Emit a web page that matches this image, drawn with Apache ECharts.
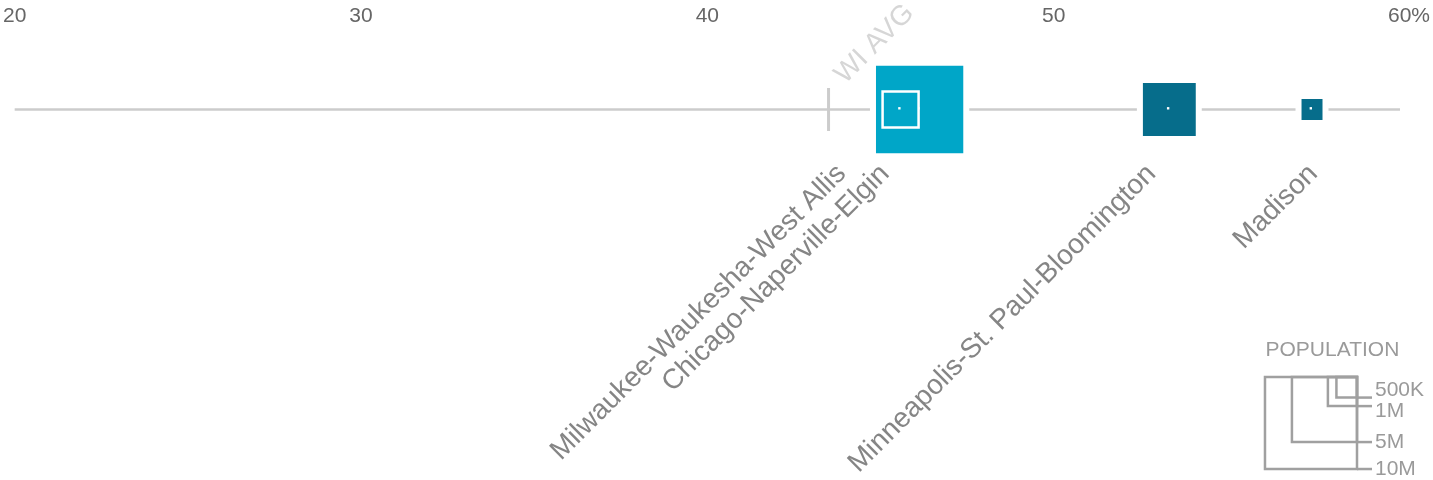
<!DOCTYPE html>
<html>
<head>
<meta charset="utf-8">
<script src="https://cdn.jsdelivr.net/npm/echarts@6/dist/echarts.min.js"></script>
<style>
  html, body { margin: 0; padding: 0; background: #fff; }
  #chart { width: 1433px; height: 480px; }
</style>
</head>
<body>
<div id="chart"></div>
<script>
// metro areas
const metros = ['Milwaukee-Waukesha-West Allis', 'Chicago-Naperville-Elgin', 'Minneapolis-St. Paul-Bloomington', 'Madison']
// share, %
const shares = [45.58, 46.13, 53.34, 57.46]
// population, millions
const populations = [1.53, 9.0, 3.3, 0.52]
// Wisconsin average, %
const wiAvg = 43.5
// axis ticks
const axisMin = 20
const axisMax = 60
const axisStep = 10
// size legend
const legendPops = [10, 5, 1, 0.5]
const legendLabels = ['10M', '5M', '1M', '500K']

// styles / layout
const FONT = '"Liberation Sans", Arial, sans-serif'
const itemColors = ['#00a6c8', '#00a6c8', '#066d8b', '#066d8b']
const outlined = [true, false, false, false]
const labelShift = [-59, -34.7, -17.7, 1.2]
const LABEL_Y = 1.0
const K = 29.1 // px per sqrt(million)
function side(p) {
  return K * Math.sqrt(p)
}

const chart = echarts.init(document.getElementById('chart'))

// bigger squares first so smaller ones are on top
const order = populations.map((p, i) => i).sort((a, b) => populations[b] - populations[a])

// squares + their centre dots, plain ones first, outlined ones on top
function squareLayer(idx, z) {
  return [
    {
      type: 'scatter',
      z: z,
      clip: false,
      silent: true,
      symbol: 'rect',
      data: idx.map(i => ({
        value: [shares[i], 0],
        symbolSize: side(populations[i]) + (outlined[i] ? 0 : 6),
        itemStyle: {
          color: itemColors[i],
          opacity: 1,
          borderColor: '#fff',
          borderWidth: outlined[i] ? 2.5 : 6
        }
      }))
    },
    {
      type: 'scatter',
      z: z + 1,
      clip: false,
      silent: true,
      symbol: 'rect',
      symbolSize: 2.4,
      symbolOffset: [-1.2, -1.2],
      itemStyle: { color: '#fff', opacity: 1 },
      data: idx.map(i => [shares[i], 0])
    }
  ]
}

// legend
const legendEls = []
const LEG_RIGHT = 1357
const LEG_TOP = 377
const legendDy = [0, 0.6, 5.4, -7.6]
legendPops.forEach((p, i) => {
  const s = side(p)
  legendEls.push({
    type: 'rect',
    shape: { x: LEG_RIGHT - s, y: LEG_TOP, width: s, height: s },
    style: { fill: 'none', stroke: '#a0a0a0', lineWidth: 2.5 }
  })
  legendEls.push({
    type: 'line',
    shape: { x1: LEG_RIGHT, y1: LEG_TOP + s, x2: LEG_RIGHT + 15, y2: LEG_TOP + s },
    style: { stroke: '#a0a0a0', lineWidth: 2.5 }
  })
  legendEls.push({
    type: 'text',
    x: LEG_RIGHT + 18,
    y: LEG_TOP + s + legendDy[i],
    style: {
      text: legendLabels[i],
      fill: '#9a9a9a',
      font: '21px ' + FONT,
      verticalAlign: 'middle',
      textVerticalAlign: 'middle'
    }
  })
})
legendEls.push({
  type: 'text',
  x: 1265.5,
  y: 350,
  style: {
    text: 'POPULATION',
    fill: '#9a9a9a',
    font: '21px ' + FONT,
    verticalAlign: 'middle',
    textVerticalAlign: 'middle'
  }
})

const nameLabel = {
  show: true,
  position: 'inside',
  rotate: 45,
  verticalAlign: 'middle',
  fontSize: 28,
  fontFamily: FONT
}

const option = {
  animation: false,
  grid: { left: 14, right: 32.5, top: 49.5, height: 120 },
  xAxis: {
    type: 'value',
    position: 'top',
    min: axisMin,
    max: axisMax,
    interval: axisStep,
    axisLine: { show: false },
    axisTick: { show: false },
    splitLine: { show: false },
    axisLabel: {
      margin: 23,
      fontSize: 21,
      color: '#666',
      fontFamily: FONT,
      formatter: v => v === axisMax ? '{last|' + v + '%}' : String(v),
      rich: {
        last: { padding: [0, 0, 0, 18], fontSize: 21, color: '#666', fontFamily: FONT }
      }
    }
  },
  yAxis: {
    type: 'value',
    min: -1,
    max: 1,
    inverse: true,
    show: false
  },
  graphic: legendEls,
  series: [
    {
      // base line
      type: 'line',
      z: 1,
      silent: true,
      symbol: 'none',
      lineStyle: { color: '#cccccc', width: 2.5 },
      data: [[axisMin, 0], [axisMax, 0]]
    },
    {
      // WI average marker
      type: 'scatter',
      z: 2,
      clip: false,
      silent: true,
      symbol: 'rect',
      symbolSize: [3, 43],
      itemStyle: { color: '#cccccc', opacity: 1 },
      data: [[wiAvg, 0]]
    },
    {
      // WI average label
      type: 'scatter',
      z: 2,
      clip: false,
      silent: true,
      symbol: 'rect',
      symbolSize: 1,
      itemStyle: { color: 'rgba(0,0,0,0)' },
      data: [{ value: [wiAvg, 0], symbolOffset: [11, -30.5] }],
      label: Object.assign({}, nameLabel, { align: 'left', formatter: 'WI AVG', color: '#cccccc' })
    },
    ...squareLayer(order.filter(i => !outlined[i]), 3),
    ...squareLayer(order.filter(i => outlined[i]), 5),
    {
      // metro names
      type: 'scatter',
      z: 7,
      clip: false,
      silent: true,
      symbol: 'rect',
      symbolSize: 1,
      itemStyle: { color: 'rgba(0,0,0,0)' },
      data: metros.map((m, i) => ({
        name: m,
        value: [shares[i], LABEL_Y],
        symbolOffset: [labelShift[i], 0]
      })),
      label: Object.assign({}, nameLabel, { align: 'right', formatter: '{b}', color: '#666' })
    }
  ]
}

chart.setOption(option)
</script>
</body>
</html>
